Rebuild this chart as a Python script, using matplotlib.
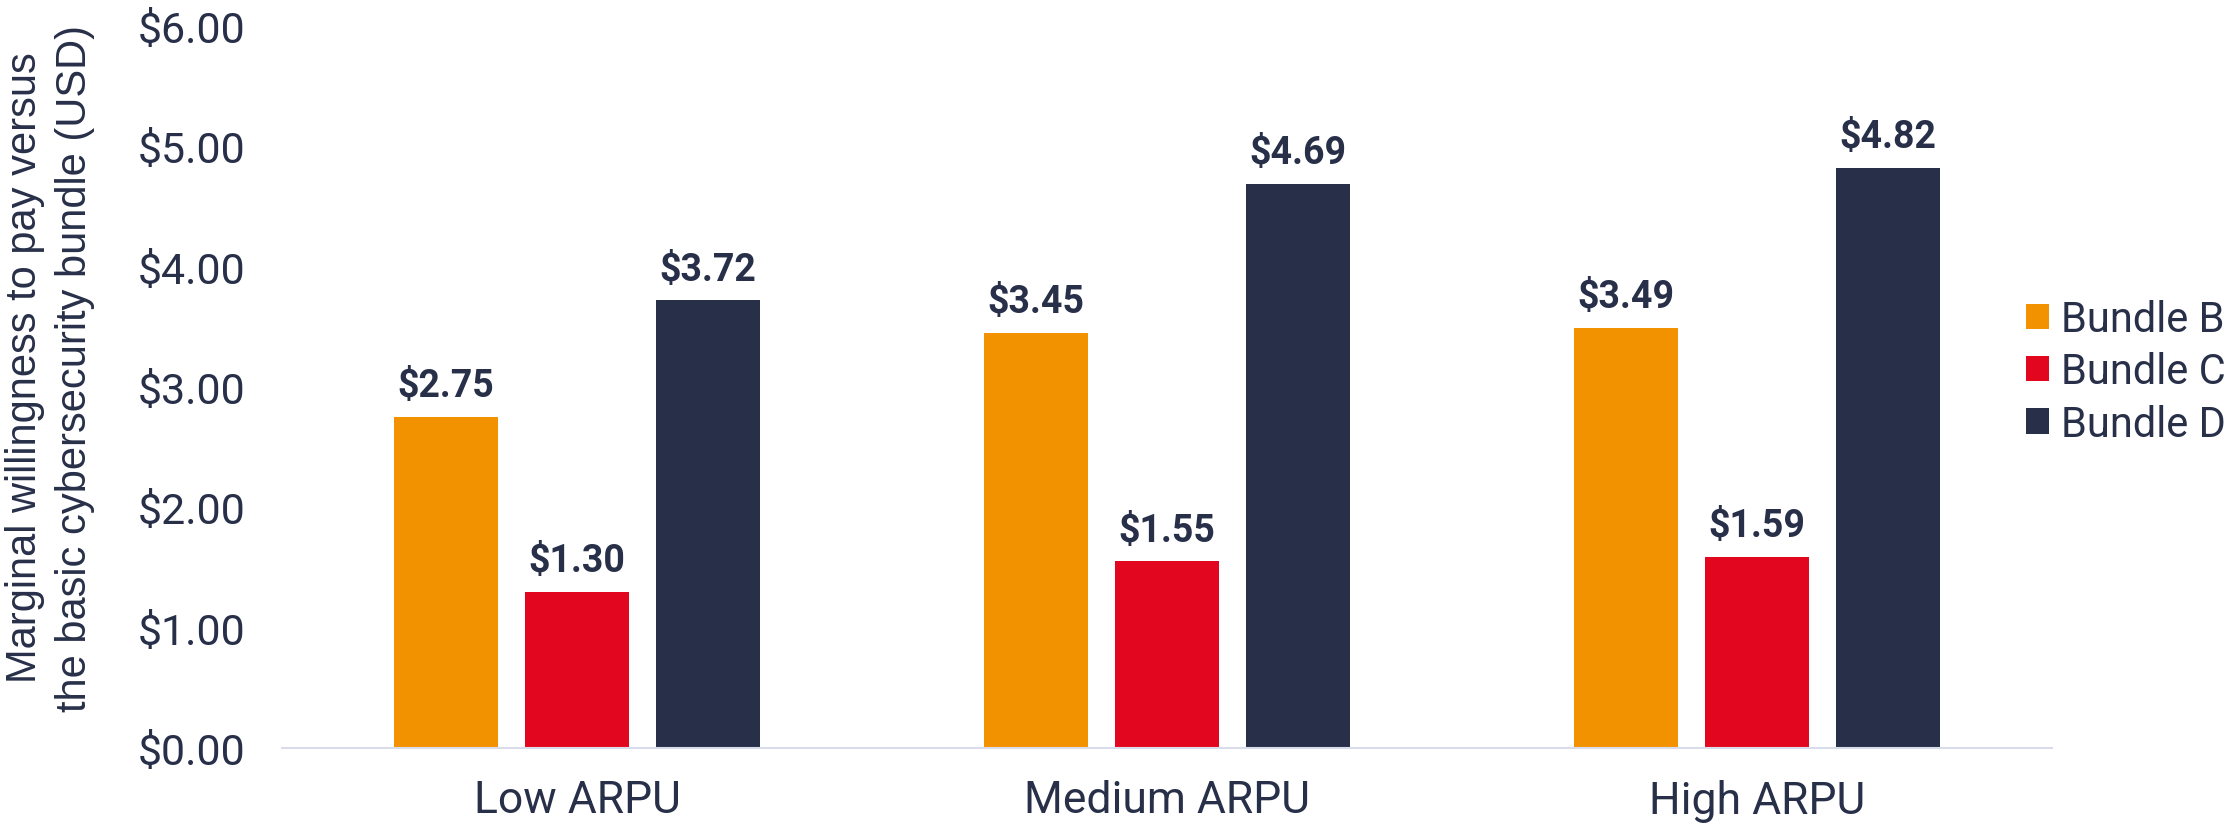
import matplotlib
matplotlib.use("Agg")
import matplotlib.pyplot as plt
from matplotlib.patches import Patch
import numpy as np

plt.rcParams['font.family'] = ['Roboto', 'DejaVu Sans']

categories = ["Low ARPU", "Medium ARPU", "High ARPU"]
series_names = ["Bundle B", "Bundle C", "Bundle D"]
bundle_b = [2.75, 3.45, 3.49]
bundle_c = [1.30, 1.55, 1.59]
bundle_d = [3.72, 4.69, 4.82]
y_ticks = [0, 1, 2, 3, 4, 5, 6]
y_ticklabels = ["$0.00", "$1.00", "$2.00", "$3.00", "$4.00", "$5.00", "$6.00"]
y_label = "Marginal willingness to pay versus\nthe basic cybersecurity bundle (USD)"

colors = ["#F39200", "#E2061F", "#283049"]
text_color = "#283049"

fig = plt.figure(figsize=(22.39, 8.28), dpi=100)
ax = fig.add_axes([282/2239, 1-749/828, (2052-282)/2239, (749-27)/828])

x = np.arange(len(categories))
width = 0.175
step = 0.222
for i, (vals, col) in enumerate(zip([bundle_b, bundle_c, bundle_d], colors)):
    pos = x + (i - 1) * step
    ax.bar(pos, vals, width=width, color=col, zorder=2)
    for p, v in zip(pos, vals):
        ax.annotate(f"${v:.2f}", (p, v), xytext=(0, 15), textcoords="offset points",
                    ha="center", va="baseline", fontsize=27, fontweight="bold",
                    color=text_color)

ax.set_xlim(-0.5, 2.5)
ax.set_ylim(0, 6)
ax.set_yticks(y_ticks)
ax.set_yticklabels(y_ticklabels)
ax.set_xticks(x)
ax.set_xticklabels(categories)
ax.tick_params(axis="y", length=0, pad=26, labelsize=31, labelcolor=text_color)
ax.tick_params(axis="x", length=0, pad=22, labelsize=32, labelcolor=text_color)
for s in ["top", "right", "left"]:
    ax.spines[s].set_visible(False)
ax.spines["bottom"].set_color("#D9DCEA")
ax.spines["bottom"].set_linewidth(1.5)

fig.text(50/2239, 1-368/828, y_label, rotation=90, ha="center", va="center",
         multialignment="center", fontsize=30, color=text_color, linespacing=1.3,
         family=["Liberation Sans", "DejaVu Sans"])

handles = [Patch(facecolor=c, edgecolor="none") for c in colors]
leg = fig.legend(handles, series_names, loc="center left",
                 bbox_to_anchor=(2026/2239, 1-373/828), frameon=False,
                 fontsize=30, handlelength=0.55, handleheight=0.55,
                 handletextpad=0.3, labelspacing=0.27, borderpad=0, borderaxespad=0)
for t in leg.get_texts():
    t.set_color(text_color)

fig.savefig("out.png", dpi=100)
